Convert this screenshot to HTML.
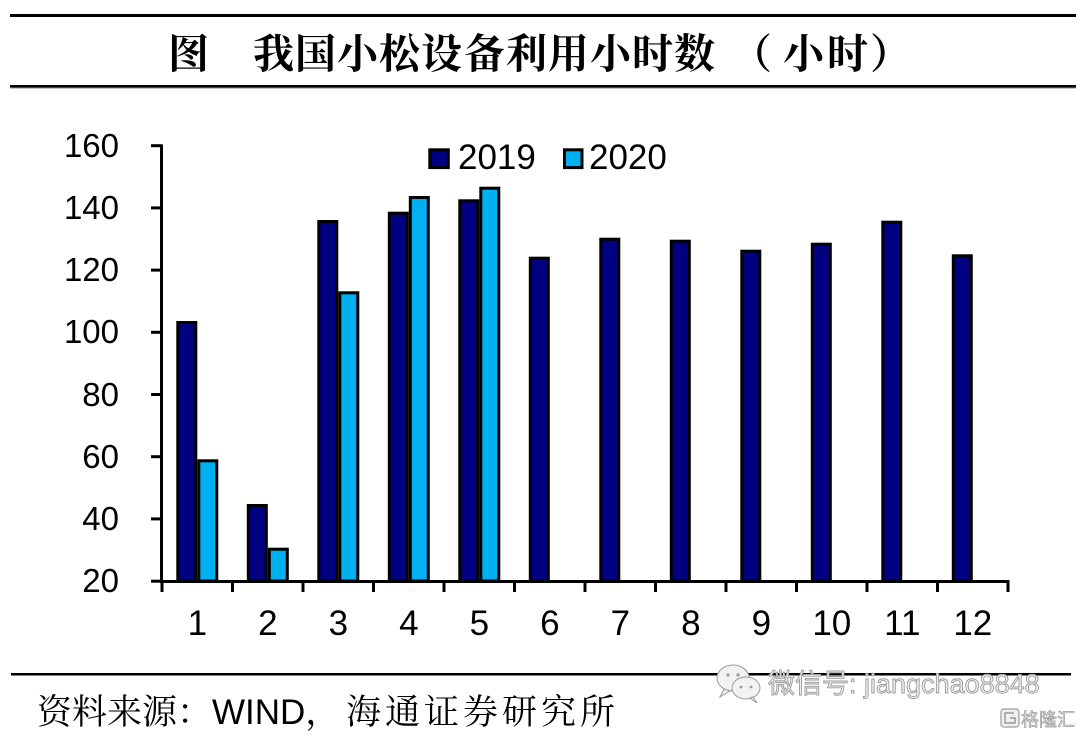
<!DOCTYPE html>
<html>
<head>
<meta charset="utf-8">
<style>
html,body{margin:0;padding:0;background:#fff;}
svg{display:block;}
</style>
</head>
<body>
<svg width="1080" height="736" viewBox="0 0 1080 736" xmlns="http://www.w3.org/2000/svg">
  <rect width="1080" height="736" fill="#fff"/>
  <!-- Title lines -->
  <rect x="10" y="14" width="1066" height="3" fill="#000"/>
  <rect x="10" y="85" width="1066" height="2.5" fill="#000"/>
  <rect x="10" y="87.5" width="1066" height="1" fill="#888"/>
  <g font-family="'Noto Serif CJK SC','Noto Sans CJK SC',serif" font-weight="700" font-size="41" fill="#000">
    <text x="168" y="68">图</text>
    <text x="253" y="68">我</text>
    <text x="295" y="68">国</text>
    <text x="337" y="68">小</text>
    <text x="379" y="68">松</text>
    <text x="421" y="68">设</text>
    <text x="464" y="68">备</text>
    <text x="506" y="68">利</text>
    <text x="548" y="68">用</text>
    <text x="590" y="68">小</text>
    <text x="632" y="68">时</text>
    <text x="674" y="68">数</text>
    <text x="731" y="68">（</text>
    <text x="783" y="68">小</text>
    <text x="827" y="68">时</text>
    <text x="870" y="68">）</text>
  </g>

  <!-- Y axis -->
  <g stroke="#000" stroke-width="3" fill="none">
    <line x1="161.5" y1="144.5" x2="161.5" y2="582.5"/>
    <line x1="151" y1="145.7" x2="162" y2="145.7"/>
    <line x1="151" y1="207.9" x2="162" y2="207.9"/>
    <line x1="151" y1="270.1" x2="162" y2="270.1"/>
    <line x1="151" y1="332.3" x2="162" y2="332.3"/>
    <line x1="151" y1="394.5" x2="162" y2="394.5"/>
    <line x1="151" y1="456.7" x2="162" y2="456.7"/>
    <line x1="151" y1="518.9" x2="162" y2="518.9"/>
    <line x1="151" y1="581.2" x2="162" y2="581.2"/>
    <!-- X axis -->
    <line x1="160" y1="581.5" x2="1009.5" y2="581.5"/>
    <line x1="162" y1="581" x2="162" y2="592"/>
    <line x1="232.5" y1="581" x2="232.5" y2="592"/>
    <line x1="303" y1="581" x2="303" y2="592"/>
    <line x1="373.5" y1="581" x2="373.5" y2="592"/>
    <line x1="444" y1="581" x2="444" y2="592"/>
    <line x1="514.5" y1="581" x2="514.5" y2="592"/>
    <line x1="585" y1="581" x2="585" y2="592"/>
    <line x1="655.5" y1="581" x2="655.5" y2="592"/>
    <line x1="726" y1="581" x2="726" y2="592"/>
    <line x1="796.5" y1="581" x2="796.5" y2="592"/>
    <line x1="867" y1="581" x2="867" y2="592"/>
    <line x1="937.5" y1="581" x2="937.5" y2="592"/>
    <line x1="1008" y1="581" x2="1008" y2="592"/>
  </g>

  <!-- Y labels -->
  <g font-family="'Liberation Sans',Arial,sans-serif" font-size="33" fill="#000" text-anchor="end">
    <text x="119" y="157">160</text>
    <text x="119" y="219">140</text>
    <text x="119" y="281">120</text>
    <text x="119" y="343">100</text>
    <text x="119" y="406">80</text>
    <text x="119" y="468">60</text>
    <text x="119" y="530">40</text>
    <text x="119" y="592">20</text>
  </g>

  <!-- X labels -->
  <g font-family="'Liberation Sans',Arial,sans-serif" font-size="35" fill="#000" text-anchor="middle">
    <text x="197.3" y="635">1</text>
    <text x="267.8" y="635">2</text>
    <text x="338.3" y="635">3</text>
    <text x="408.8" y="635">4</text>
    <text x="479.3" y="635">5</text>
    <text x="549.8" y="635">6</text>
    <text x="620.3" y="635">7</text>
    <text x="690.8" y="635">8</text>
    <text x="761.3" y="635">9</text>
    <text x="831.8" y="635">10</text>
    <text x="902.3" y="635">11</text>
    <text x="972.8" y="635">12</text>
  </g>

  <!-- Bars: dark 2019 -->
  <g fill="#000080" stroke="#000" stroke-width="3">
    <rect x="177.8" y="322.5" width="18" height="258.5"/>
    <rect x="248.3" y="505.5" width="18" height="75.5"/>
    <rect x="318.8" y="221.5" width="18" height="359.5"/>
    <rect x="389.3" y="213.2" width="18" height="367.8"/>
    <rect x="459.8" y="200.8" width="18" height="380.2"/>
    <rect x="530.3" y="258.2" width="18" height="322.8"/>
    <rect x="600.8" y="239.2" width="18" height="341.8"/>
    <rect x="671.3" y="241.2" width="18" height="339.8"/>
    <rect x="741.8" y="251.2" width="18" height="329.8"/>
    <rect x="812.3" y="244.2" width="18" height="336.8"/>
    <rect x="882.8" y="222.2" width="18" height="358.8"/>
    <rect x="953.3" y="255.8" width="18" height="325.2"/>
  </g>
  <!-- Bars: light 2020 -->
  <g fill="#00B0F0" stroke="#000" stroke-width="3">
    <rect x="198.8" y="460.8" width="18" height="120.2"/>
    <rect x="269.3" y="549.2" width="18" height="31.8"/>
    <rect x="339.8" y="292.8" width="18" height="288.2"/>
    <rect x="410.3" y="197.5" width="18" height="383.5"/>
    <rect x="480.8" y="188.2" width="18" height="392.8"/>
  </g>

  <!-- Legend -->
  <rect x="429.8" y="149.8" width="18.5" height="17.8" fill="#000080" stroke="#000" stroke-width="3"/>
  <text x="458" y="169" font-family="'Liberation Sans',Arial,sans-serif" font-size="35" fill="#000">2019</text>
  <rect x="564.5" y="149.8" width="17.5" height="17.8" fill="#00B0F0" stroke="#000" stroke-width="3"/>
  <text x="589" y="169" font-family="'Liberation Sans',Arial,sans-serif" font-size="35" fill="#000">2020</text>

  <!-- Bottom line & source -->
  <rect x="11" y="673" width="1060" height="2.5" fill="#000"/>
  <g font-family="'Liberation Sans','Noto Serif CJK SC',serif" font-size="35" fill="#000">
    <text x="37" y="724">资料来源：WIND，</text>
    <text x="346" y="724" letter-spacing="4">海通证券研究所</text>
  </g>

  <!-- Watermark -->
  <g fill="#f2f2f2" stroke="#9a9a9a" stroke-width="1">
    <ellipse cx="733" cy="678" rx="16" ry="13"/>
    <ellipse cx="746" cy="688" rx="14" ry="11"/>
    <path d="M724 689 L720 697 L730 691 Z"/>
    <path d="M753 697 L757 703 L750 698 Z"/>
  </g>
  <g fill="#9a9a9a">
    <circle cx="728" cy="675" r="1.6"/>
    <circle cx="738" cy="675" r="1.6"/>
    <circle cx="741" cy="687" r="1.4"/>
    <circle cx="751" cy="687" r="1.4"/>
  </g>
  <text x="768" y="693" font-family="'Liberation Sans','Noto Sans CJK SC',sans-serif" font-size="27" fill="#f0f0f0" stroke="#9a9a9a" stroke-width="0.9">微信号: jiangchao8848</text>
  <rect x="1001" y="709" width="18" height="18" rx="3" fill="#f0f0f0" stroke="#9a9a9a" stroke-width="1.2"/>
  <path d="M1014 713 L1005 713 L1005 723 L1015 723 L1015 718 L1010 718" fill="none" stroke="#9a9a9a" stroke-width="1.5"/>
  <text x="1021" y="726" font-family="'Noto Sans CJK SC',sans-serif" font-size="18" fill="#f0f0f0" stroke="#9a9a9a" stroke-width="0.7">格隆汇</text>
</svg>
</body>
</html>
